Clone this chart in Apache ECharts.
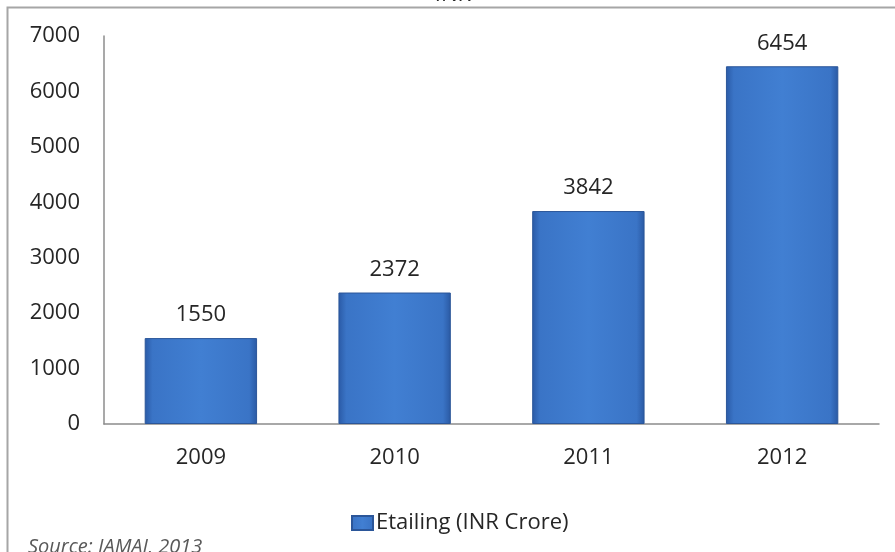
<!DOCTYPE html>
<html>
<head>
<meta charset="utf-8">
<style>
  html, body { margin: 0; padding: 0; background: #ffffff; }
  #chart { width: 895px; height: 552px; }
</style>
<script src="https://cdn.jsdelivr.net/npm/echarts@6/dist/echarts.min.js"></script>
</head>
<body>
<div id="chart"></div>
<script>
// E-tailing market size in India, INR crore
const years = ['2009', '2010', '2011', '2012'];
const etailing = [1550, 2372, 3842, 6454];
const yTicks = { min: 0, max: 7000, interval: 1000 };
const seriesName = 'Etailing (INR Crore)';
const sourceNote = 'Source: IAMAI, 2013';

const FONT = 'Open Sans';
const TEXT = '#262626';

const barFill = new echarts.graphic.LinearGradient(0, 0, 1, 0, [
  { offset: 0, color: '#2a5aa6' },
  { offset: 0.07, color: '#3a74c6' },
  { offset: 0.5, color: '#417fd2' },
  { offset: 0.93, color: '#3a74c6' },
  { offset: 1, color: '#2a59a3' }
]);

const chart = echarts.init(document.getElementById('chart'));
chart.setOption({
  backgroundColor: '#ffffff',
  animation: false,
  textStyle: { fontFamily: FONT },
  grid: { left: 104, right: 16, top: 36, bottom: 128, containLabel: false },
  legend: {
    data: [seriesName],
    left: 346,
    top: 507,
    itemWidth: 21,
    itemHeight: 14,
    itemGap: 4,
    icon: 'rect',
    textStyle: { fontFamily: FONT, fontSize: 22, color: TEXT, padding: [0, 0, 0, -2] }
  },
  xAxis: {
    type: 'category',
    data: years,
    axisLine: { lineStyle: { color: '#8c8c8c', width: 1.5 } },
    axisTick: { show: false },
    axisLabel: { fontFamily: FONT, fontSize: 22, color: TEXT, margin: 23 }
  },
  yAxis: {
    type: 'value',
    min: yTicks.min,
    max: yTicks.max,
    interval: yTicks.interval,
    splitLine: { show: false },
    axisLine: { show: true, lineStyle: { color: '#8c8c8c', width: 1.5 } },
    axisTick: { show: false },
    axisLabel: {
      fontFamily: FONT, fontSize: 22, color: TEXT, margin: 24,
      formatter: (v) => String(v)
    }
  },
  series: [{
    name: seriesName,
    type: 'bar',
    data: etailing,
    barWidth: '58%',
    itemStyle: { color: barFill, borderColor: '#2b5699', borderWidth: 1 },
    label: {
      show: true,
      position: 'top',
      distance: 12,
      fontFamily: FONT,
      fontSize: 22,
      color: TEXT
    }
  }],
  graphic: [
    {
      type: 'rect',
      shape: { x: 7.5, y: 7.5, width: 1000, height: 700 },
      style: { fill: 'none', stroke: '#a6a6a6', lineWidth: 2 },
      silent: true
    },
    {
      type: 'text',
      left: 28,
      top: 537,
      style: { text: sourceNote, font: 'italic 20px "Open Sans"', fill: '#595959' }
    },
    {
      type: 'text',
      x: 453,
      y: -5,
      style: { text: 'INR', font: '22px "Open Sans"', fill: TEXT, textAlign: 'center', textVerticalAlign: 'middle' }
    }
  ]
});
</script>
</body>
</html>
